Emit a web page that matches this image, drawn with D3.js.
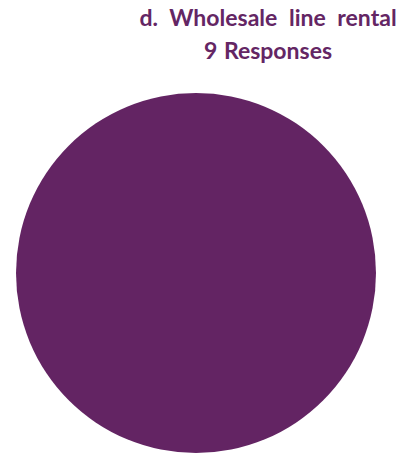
<!DOCTYPE html>
<html>
<head>
<meta charset="utf-8">
<script src="https://cdn.jsdelivr.net/npm/d3@7"></script>
<style>
  body { margin: 0; background: #fff; }
</style>
</head>
<body>
<div class="pie-chart"></div>
<script>
// single category, all responses in one slice
var categories = ["Responses"];
var values = [9];
var titleLines = ["d. Wholesale line rental", "9 Responses"];

var width = 412,
	height = 454,
	radius = 180;

var svg = d3.select(".pie-chart")
	.append("svg")
	.attr("width", width)
	.attr("height", height);

svg.selectAll("text.title")
	.data(titleLines)
	.enter()
	.append("text")
	.attr("class", "title")
	.attr("x", 268)
	.attr("y", function(d, i){ return 26 + i * 33; })
	.attr("text-anchor", "middle")
	.style("font-family", "Lato, sans-serif")
	.style("font-weight", "bold")
	.style("font-size", "23px")
	.style("word-spacing", function(d, i){ return i == 0 ? "6px" : "1px"; })
	.style("fill", "#642664")
	.text(function(d){ return d; });

var pie = d3.pie().sort(null);
var arc = d3.arc().innerRadius(0).outerRadius(radius);
var color = d3.scaleOrdinal().domain(categories).range(["#632463"]);

var g = svg.append("g")
	.attr("transform", "translate(196,273)");

g.selectAll("path")
	.data(pie(values))
	.enter()
	.append("path")
	.attr("d", arc)
	.style("fill", function(d, i){ return color(categories[i]); });
</script>
</body>
</html>
